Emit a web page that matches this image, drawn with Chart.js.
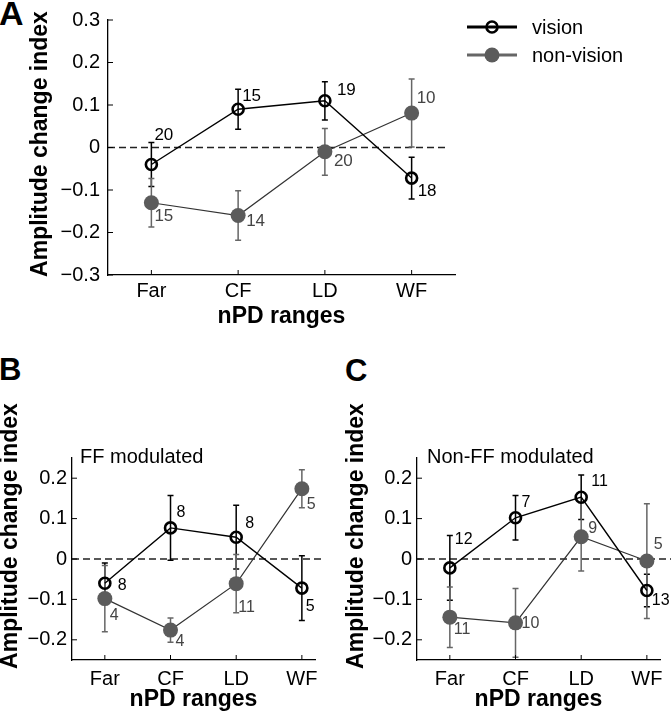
<!DOCTYPE html>
<html>
<head>
<meta charset="utf-8">
<script src="https://cdn.jsdelivr.net/npm/chart.js@4.4.0/dist/chart.umd.min.js"></script>
<style>
    body { margin: 0; background: #fff; width: 671px; height: 720px; position: relative; overflow: hidden; font-family: 'Liberation Sans', Arial, sans-serif; }
    canvas { position: absolute; }
    .tag { position: absolute; font-weight: bold; line-height: 1; color: #000; }
</style>
</head>
<body>
<div class="tag" style="left:-1px;top:-4px;font-size:34px">A</div>
<div class="tag" style="left:-1px;top:354px;font-size:31px">B</div>
<div class="tag" style="left:345px;top:355px;font-size:31px">C</div>
<canvas id="chartA" width="671" height="335" style="left:0;top:0"></canvas>
<canvas id="chartB" width="335" height="390" style="left:0;top:330px"></canvas>
<canvas id="chartC" width="336" height="390" style="left:335px;top:330px"></canvas>
<script>
const categories = ['Far', 'CF', 'LD', 'WF'];

// A: all neurons
const visionA = [-0.04, 0.09, 0.11, -0.072];
const visionErrA = [0.052, 0.047, 0.045, 0.049];
const nonVisionA = [-0.13, -0.16, -0.01, 0.081];
const nonVisionErrA = [0.057, 0.058, 0.055, 0.08];
const visionCountA = [20, 15, 19, 18];
const nonVisionCountA = [15, 14, 20, 10];

// B: FF modulated
const visionB = [-0.06, 0.077, 0.054, -0.072];
const visionErrB = [0.05, 0.08, 0.079, 0.08];
const nonVisionB = [-0.098, -0.176, -0.061, 0.174];
const nonVisionErrB = [0.082, 0.03, 0.072, 0.047];
const visionCountB = [8, 8, 8, 5];
const nonVisionCountB = [4, 4, 11, 5];

// C: non-FF modulated
const visionC = [-0.022, 0.102, 0.153, -0.078];
const visionErrC = [0.08, 0.055, 0.055, 0.04];
const nonVisionC = [-0.144, -0.158, 0.055, -0.005];
const nonVisionErrC = [0.075, 0.085, 0.085, 0.142];
const visionCountC = [12, 7, 11, 13];
const nonVisionCountC = [11, 10, 9, 5];

const yTicksA = [-0.3, -0.2, -0.1, 0, 0.1, 0.2, 0.3];
const yTicksBC = [-0.2, -0.1, 0, 0.1, 0.2];

const FONT = "'Liberation Sans', Arial, sans-serif";
const VISION_COLOR = '#000';
const NONVISION_COLOR = '#5b5b5b';

function fmtTick(v) {
    if (Math.abs(v) < 1e-9) return '0';
    return (v < 0 ? '\u2212' : '') + Math.abs(v).toFixed(1);
}

// error bars, zero line, count labels, inward ticks, rotated y title
function decorPlugin(p) {
    return {
        id: 'decor',
        beforeDatasetsDraw(chart) {
            const { ctx, chartArea, scales: { x, y } } = chart;
            const y0 = y.getPixelForValue(0);
            ctx.save();
            ctx.strokeStyle = '#222';
            ctx.lineWidth = 1.3;
            ctx.setLineDash([7, 4]);
            ctx.beginPath();
            ctx.moveTo(chartArea.left, y0);
            ctx.lineTo(x.getPixelForValue(p.zeroEnd), y0);
            ctx.stroke();
            ctx.setLineDash([]);
            p.series.forEach(s => {
                ctx.strokeStyle = s.errColor;
                ctx.lineWidth = 1.5;
                s.values.forEach((v, i) => {
                    const px = x.getPixelForValue(i);
                    const top = y.getPixelForValue(v + s.err[i]);
                    const bot = y.getPixelForValue(v - s.err[i]);
                    ctx.beginPath();
                    ctx.moveTo(px, top); ctx.lineTo(px, bot);
                    ctx.moveTo(px - 3, top); ctx.lineTo(px + 3, top);
                    ctx.moveTo(px - 3, bot); ctx.lineTo(px + 3, bot);
                    ctx.stroke();
                });
            });
            ctx.restore();
        },
        afterDatasetsDraw(chart) {
            const { ctx, scales: { x, y } } = chart;
            ctx.save();
            ctx.font = p.countSize + 'px ' + FONT;
            ctx.textAlign = 'left';
            ctx.textBaseline = 'middle';
            p.series.forEach(s => {
                ctx.fillStyle = s.countColor;
                s.counts.forEach((n, i) => {
                    const [dx, dy] = s.countOffset[i];
                    ctx.fillText(String(n), x.getPixelForValue(i) + dx, y.getPixelForValue(s.values[i]) + dy);
                });
            });
            ctx.restore();
        },
        afterDraw(chart) {
            const { ctx, chartArea, scales: { x, y } } = chart;
            ctx.save();
            ctx.strokeStyle = '#000';
            ctx.lineWidth = 1;
            ctx.beginPath();
            categories.forEach((c, i) => {
                const px = x.getPixelForValue(i);
                ctx.moveTo(px, chartArea.bottom);
                ctx.lineTo(px, chartArea.bottom - 5);
            });
            p.yTicks.forEach(v => {
                const py = y.getPixelForValue(v);
                ctx.moveTo(chartArea.left, py);
                ctx.lineTo(chartArea.left + 5, py);
            });
            ctx.stroke();

            ctx.fillStyle = '#000';
            ctx.font = 'bold 23px ' + FONT;
            ctx.textAlign = 'center';
            ctx.textBaseline = 'middle';
            ctx.translate(p.yTitle[0], p.yTitle[1]);
            ctx.rotate(-Math.PI / 2);
            ctx.fillText('Amplitude change index', 0, 0);
            ctx.setTransform(1, 0, 0, 1, 0, 0);

            if (p.innerTitle) {
                ctx.font = '20px ' + FONT;
                ctx.textAlign = 'left';
                ctx.textBaseline = 'alphabetic';
                ctx.fillText(p.innerTitle, chartArea.left + p.innerTitleDx, chartArea.top + 5);
            }
            if (p.legend) drawLegend(ctx, p.legend);
            ctx.restore();
        }
    };
}

function drawLegend(ctx, at) {
    const rows = [
        { label: 'vision', line: '#000', open: true },
        { label: 'non-vision', line: '#666', open: false }
    ];
    rows.forEach((r, k) => {
        const yy = at.y + k * at.gap;
        ctx.strokeStyle = r.line;
        ctx.lineWidth = 3;
        ctx.beginPath();
        ctx.moveTo(at.x, yy);
        ctx.lineTo(at.x + 50, yy);
        ctx.stroke();
        ctx.beginPath();
        if (r.open) {
            ctx.lineWidth = 2.6;
            ctx.arc(at.x + 25, yy, 5.5, 0, Math.PI * 2);
            ctx.stroke();
        } else {
            ctx.fillStyle = NONVISION_COLOR;
            ctx.arc(at.x + 25, yy, 7.5, 0, Math.PI * 2);
            ctx.fill();
        }
        ctx.fillStyle = '#000';
        ctx.font = '20px ' + FONT;
        ctx.textAlign = 'left';
        ctx.textBaseline = 'middle';
        ctx.fillText(r.label, at.x + 65, yy + 1);
    });
}

function makePanel(id, p) {
    const toPoints = vals => vals.map((v, i) => ({ x: i, y: v }));
    const series = [
        { values: p.vision, err: p.visionErr, counts: p.visionCount, countOffset: p.visionOffset, errColor: '#000', countColor: '#000' },
        { values: p.nonVision, err: p.nonVisionErr, counts: p.nonVisionCount, countOffset: p.nonVisionOffset, errColor: '#666', countColor: '#444' }
    ];
    return new Chart(document.getElementById(id), {
        type: 'line',
        data: {
            datasets: [
                {
                    label: 'vision',
                    data: toPoints(p.vision),
                    borderColor: VISION_COLOR,
                    borderWidth: 1.4,
                    pointRadius: 5.5,
                    pointBorderWidth: 2.6,
                    pointBorderColor: VISION_COLOR,
                    pointBackgroundColor: 'rgba(0,0,0,0)'
                },
                {
                    label: 'non-vision',
                    data: toPoints(p.nonVision),
                    borderColor: '#333',
                    borderWidth: 1.2,
                    pointRadius: 7.5,
                    pointBorderWidth: 0,
                    pointBorderColor: NONVISION_COLOR,
                    pointBackgroundColor: NONVISION_COLOR
                }
            ]
        },
        options: {
            responsive: false,
            animation: false,
            events: [],
            layout: { autoPadding: false, padding: p.padding },
            plugins: { legend: { display: false }, tooltip: { enabled: false } },
            scales: {
                x: {
                    type: 'linear',
                    min: -0.5,
                    max: p.xMax,
                    afterBuildTicks: s => { s.ticks = categories.map((c, i) => ({ value: i })); },
                    afterFit: s => { s.height = p.xAxisHeight; },
                    ticks: {
                        callback: v => categories[v],
                        color: '#000',
                        font: { family: FONT, size: 20 },
                        padding: p.xTickPad,
                        maxRotation: 0,
                        autoSkip: false
                    },
                    grid: { display: false, drawTicks: false },
                    border: { display: true, color: '#000', width: 1.3 },
                    title: {
                        display: true,
                        text: 'nPD ranges',
                        color: '#000',
                        font: { family: FONT, size: 23, weight: 'bold' },
                        padding: { top: 0, bottom: p.xTitlePad }
                    }
                },
                y: {
                    type: 'linear',
                    min: p.yMin,
                    max: p.yMax,
                    afterBuildTicks: s => { s.ticks = p.yTicks.map(v => ({ value: v })); },
                    afterFit: s => { s.width = p.yAxisWidth; },
                    ticks: {
                        callback: v => fmtTick(v),
                        color: '#000',
                        font: { family: FONT, size: 20 },
                        padding: p.yTickPad
                    },
                    grid: { display: false, drawTicks: false },
                    border: { display: true, color: '#000', width: 1.3 }
                }
            }
        },
        plugins: [decorPlugin(Object.assign({ series, countSize: p.countSize }, p))]
    });
}

makePanel('chartA', {
    vision: visionA, visionErr: visionErrA, visionCount: visionCountA,
    nonVision: nonVisionA, nonVisionErr: nonVisionErrA, nonVisionCount: nonVisionCountA,
    visionOffset: [[3, -29], [4, -13], [12, -10], [6, 13]],
    nonVisionOffset: [[3, 14], [8, 6], [9, 10], [5, -15]],
    countSize: 17,
    yMin: -0.3, yMax: 0.3, yTicks: yTicksA, xMax: 3.5, zeroEnd: 3.42,
    padding: { left: 0, top: 10, right: 216, bottom: 0 },
    yAxisWidth: 108, xAxisHeight: 60, xTickPad: 4, yTickPad: 8, xTitlePad: 5,
    yTitle: [41, 144],
    legend: { x: 467, y: 27, gap: 28 }
});

makePanel('chartB', {
    vision: visionB, visionErr: visionErrB, visionCount: visionCountB,
    nonVision: nonVisionB, nonVisionErr: nonVisionErrB, nonVisionCount: nonVisionCountB,
    visionOffset: [[13, 2], [6, -15], [9, -14], [4, 19]],
    nonVisionOffset: [[5, 17], [5, 11], [2, 24], [5, 16]],
    countSize: 16,
    yMin: -0.25, yMax: 0.25, yTicks: yTicksBC, xMax: 3.2, zeroEnd: 3.33,
    padding: { left: 0, top: 128, right: 20, bottom: 0 },
    yAxisWidth: 72, xAxisHeight: 60, xTickPad: 7, yTickPad: 5, xTitlePad: 7,
    yTitle: [11, 206],
    innerTitle: 'FF modulated', innerTitleDx: 8
});

makePanel('chartC', {
    vision: visionC, visionErr: visionErrC, visionCount: visionCountC,
    nonVision: nonVisionC, nonVisionErr: nonVisionErrC, nonVisionCount: nonVisionCountC,
    visionOffset: [[5, -28], [6, -15], [10, -16], [5, 10]],
    nonVisionOffset: [[4, 12], [6, 1], [7, -8], [7, -16]],
    countSize: 16,
    yMin: -0.25, yMax: 0.25, yTicks: yTicksBC, xMax: 3.2, zeroEnd: 3.45,
    padding: { left: 0, top: 128, right: 11, bottom: 0 },
    yAxisWidth: 82, xAxisHeight: 60, xTickPad: 7, yTickPad: 5, xTitlePad: 7,
    yTitle: [22, 206],
    innerTitle: 'Non-FF modulated', innerTitleDx: 10
});
</script>
</body>
</html>
